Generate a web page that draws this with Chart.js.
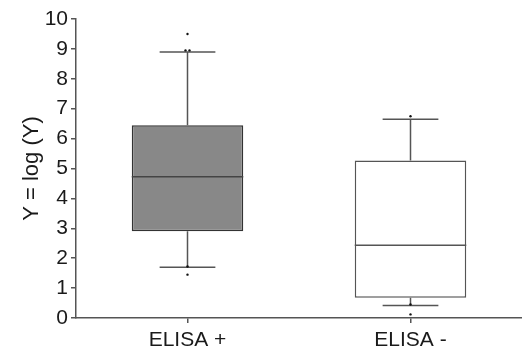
<!DOCTYPE html>
<html>
<head>
<meta charset="utf-8">
<script src="https://cdn.jsdelivr.net/npm/chart.js@4/dist/chart.umd.min.js"></script>
<style>
html,body{margin:0;padding:0;background:#fff;}
#wrap{width:522px;height:350px;position:relative;}
</style>
</head>
<body>
<div id="wrap"><canvas id="c" width="522" height="350"></canvas></div>
<script>
const categories = ["ELISA +", "ELISA -"];
const q1Values = [2.9, 0.68];
const q3Values = [6.45, 5.27];
const medianValues = [4.72, 2.43];
const whiskerLow = [1.7, 0.42];
const whiskerHigh = [8.9, 6.65];
const outlierPoints = [
  [9.5, 8.95, 8.95, 1.72, 1.45],
  [6.75, 0.45, 0.12]
];
const yTicks = [0,1,2,3,4,5,6,7,8,9,10];
const boxFills = ["#888888", "#ffffff"];
const boxBorders = ["#333333", "#555555"];

const FONT = "'Liberation Sans', Arial, sans-serif";

const boxPlugin = {
  id: 'boxExtras',
  afterDatasetsDraw(chart) {
    const ctx = chart.ctx;
    const x = chart.scales.x, y = chart.scales.y;
    const meta = chart.getDatasetMeta(0);
    ctx.save();
    categories.forEach((c, i) => {
      const bar = meta.data[i];
      const cx = x.getPixelForValue(i);
      const half = bar.width / 2;
      const capHalf = half / 2;
      ctx.strokeStyle = i === 0 ? '#444' : '#555';
      ctx.lineWidth = 1.5;
      ctx.beginPath();
      const ym = y.getPixelForValue(medianValues[i]);
      ctx.moveTo(cx - half, ym); ctx.lineTo(cx + half, ym);
      ctx.stroke();
      const yq1 = y.getPixelForValue(q1Values[i]);
      const yq3 = y.getPixelForValue(q3Values[i]);
      const ylo = y.getPixelForValue(whiskerLow[i]);
      const yhi = y.getPixelForValue(whiskerHigh[i]);
      ctx.strokeStyle = '#555';
      ctx.beginPath();
      ctx.moveTo(cx, yq3); ctx.lineTo(cx, yhi);
      ctx.moveTo(cx - capHalf, yhi); ctx.lineTo(cx + capHalf, yhi);
      ctx.moveTo(cx, yq1); ctx.lineTo(cx, ylo);
      ctx.moveTo(cx - capHalf, ylo); ctx.lineTo(cx + capHalf, ylo);
      ctx.stroke();
      ctx.fillStyle = '#111';
      outlierPoints[i].forEach((v, k) => {
        const py = y.getPixelForValue(v);
        let off = 0;
        if (i === 0 && k === 1) off = -2;
        if (i === 0 && k === 2) off = 2;
        ctx.beginPath();
        ctx.arc(cx + off, py, 1.2, 0, Math.PI * 2);
        ctx.fill();
      });
    });
    ctx.restore();
  }
};

new Chart(document.getElementById('c'), {
  type: 'bar',
  data: {
    labels: categories,
    datasets: [{
      data: categories.map((c, i) => [q1Values[i], q3Values[i]]),
      backgroundColor: boxFills,
      borderColor: boxBorders,
      borderWidth: 1.5,
      borderSkipped: false,
      barPercentage: 0.5,
      categoryPercentage: 1.0
    }]
  },
  options: {
    responsive: false,
    animation: false,
    layout: { padding: { top: 19, right: 0, left: 0, bottom: 0 } },
    plugins: { legend: { display: false }, tooltip: { enabled: false } },
    scales: {
      x: {
        offset: true,
        grid: { display: true, drawOnChartArea: false, drawTicks: true, tickLength: 5, color: '#555', lineWidth: 1.5, offset: false },
        border: { color: '#555', width: 1.5 },
        ticks: { color: '#1a1a1a', font: { family: FONT, size: 21 }, padding: 5 },
        afterFit(s) { s.height = 32; }
      },
      y: {
        min: 0, max: 10,
        afterBuildTicks(s) { s.ticks = yTicks.map(v => ({ value: v })); },
        grid: { display: true, drawOnChartArea: false, drawTicks: true, tickLength: 5, color: '#555', lineWidth: 1.5 },
        border: { color: '#555', width: 1.5 },
        ticks: { color: '#1a1a1a', font: { family: FONT, size: 21 }, padding: 3 },
        title: { display: true, text: 'Y = log (Y)', color: '#1a1a1a', font: { family: FONT, size: 22 }, padding: { top: 19, bottom: 0 } },
        afterFit(s) { s.width = 76; }
      }
    }
  },
  plugins: [boxPlugin]
});
</script>
</body>
</html>
